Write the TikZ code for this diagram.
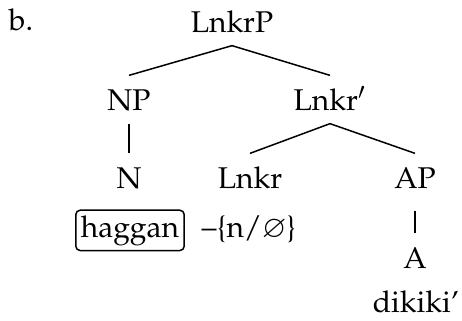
\documentclass[tikz,border=0pt]{standalone}
\usepackage[T1]{fontenc}
\usepackage{amsmath, amssymb}
\usepackage{mathpazo}
\usepackage{tikz}

\begin{document}
\begin{tikzpicture}[x=.3333pt, y=-.3333pt, line width=.5pt,
		cat/.style={anchor=base, inner xsep=0pt, inner ysep=4.3pt, text height=7pt, text depth=0pt},
		word/.style={anchor=base, inner sep=0pt},
		boxed/.style={anchor=base, draw, rounded corners=1.5pt, inner sep=1.7pt}]
				\useasboundingbox (0,0) rectangle (462,321);
				\node[word] (ex) at (21,30) {b.};
				% categories
				\node[cat] (lp) at (232,32) {LnkrP};
				\node[cat] (np) at (129,110) {NP};
				\node[cat] (lb) at (330,110) {Lnkr$'$};
				\node[cat] (n) at (129,188) {N};
				\node[cat] (lk) at (250,188) {Lnkr};
				\node[cat] (ap) at (415,188) {AP};
				\node[cat] (a) at (415,268) {A};
				% words
				\node[boxed] (hg) at (130,237) {haggan};
				\node[word] (suf) at (249,237) {--\{n/$\varnothing$\}};
				\node[word] (dk) at (416,312) {dikiki'};
				\foreach \p/\c in {lp/np, lp/lb, lb/lk, lb/ap, np/n} {
					\draw (\p.south) -- (\c.north);
				}
				\draw[shorten <=3pt] (ap.south) -- (a.north);
			\end{tikzpicture}
\end{document}
